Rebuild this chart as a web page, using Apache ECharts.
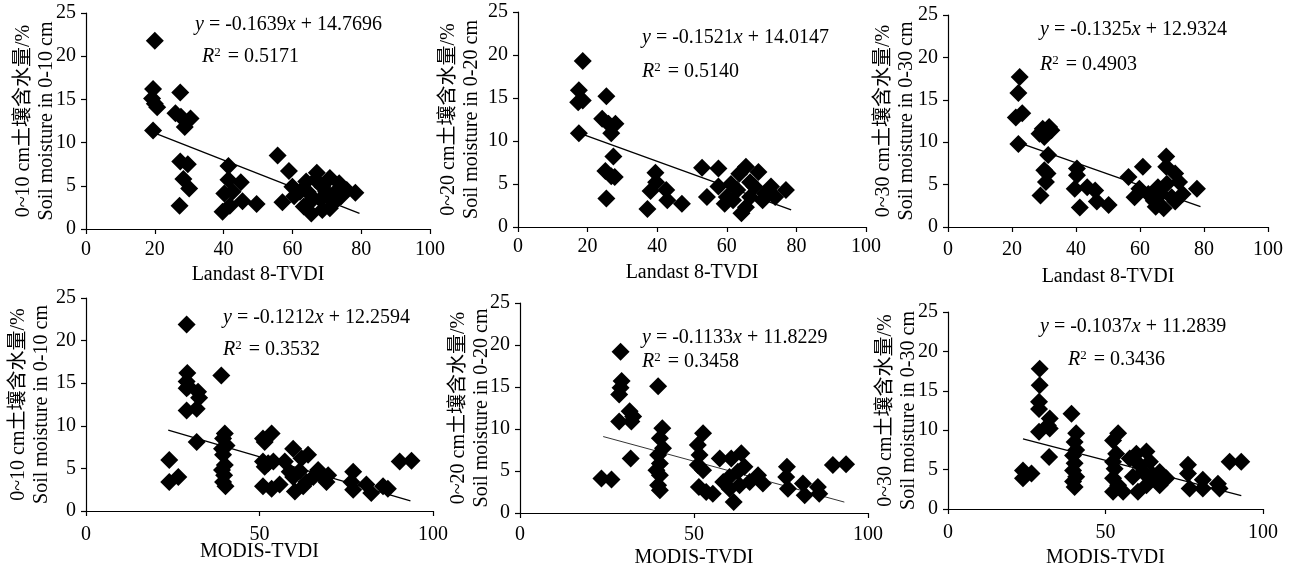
<!DOCTYPE html>
<html>
<head>
<meta charset="utf-8">
<script src="https://cdn.jsdelivr.net/npm/echarts@6/dist/echarts.min.js"></script>
<style>html,body{margin:0;padding:0;background:#fff}#c{width:1296px;height:570px}</style>
</head>
<body>
<div id="c"></div>
<script>
// ---- data ----
const landsat10 = [[20,21.8],[19.5,16.2],[19.2,15.1],[20,14.5],[20.7,14.1],[19.5,11.4],[27.4,15.8],[26,13.4],[27.6,13],[30.4,12.8],[28.7,11.8],[27.4,7.8],[29.6,7.5],[28.3,5.8],[30,4.7],[27.2,2.7],[41.4,7.3],[41.4,5.7],[45,5.4],[40.2,4.1],[42.6,4.3],[45.5,3.2],[39.7,2.0],[41.8,2.7],[49.6,2.9],[55.7,8.5],[59,6.7],[57.1,3.1],[60,4.9],[60.5,3.8],[63.3,2.6],[65.5,1.8],[67.1,6.5],[68.7,4.9],[70.9,5.9],[73.6,5.3],[75.8,4.5],[78.3,4.2],[64.4,4.3],[66,3.6],[68.2,3.4],[70.4,3.8],[72,3.0],[68.7,2.2],[70.9,2.4],[64,5.5],[66.7,5.7],[69.8,4.3],[74.2,3.8],[64.9,3.0],[62.2,4.3],[72.6,4.3]];
const landsat20 = [[18.6,19.3],[17.5,15.9],[17.3,14.5],[18.6,14.7],[17.5,10.9],[25.4,15.2],[24.2,12.6],[26,12],[28,12],[26.8,10.9],[27.4,8.2],[25.1,6.5],[26.8,5.9],[27.8,5.8],[25.4,3.3],[39.5,6.3],[39.7,5.2],[38.1,4.2],[42.6,4.3],[42.9,3.1],[37.2,2.1],[47.1,2.7],[52.9,6.9],[57.6,6.8],[54.3,3.5],[57.6,4.7],[60,3.5],[63.6,6.2],[65.5,7.0],[69.1,6.4],[72.7,4.7],[77,4.3],[64.2,1.6],[61.8,3.1],[66.7,3.5],[70.3,3.1],[63,4.3],[67.9,4.7],[65.5,2.3],[59.4,2.7],[70.9,3.9],[61.2,5.0],[66.7,5.2],[73.9,3.5]];
const landsat30 = [[22.4,17.7],[22,15.8],[21.2,12.9],[23.2,13.4],[22,9.8],[29.6,11.6],[28.6,11.0],[31.6,11.8],[32.3,11.4],[30.1,10.6],[31.3,8.5],[30.1,6.7],[31.1,6.3],[30.6,5.3],[28.9,3.7],[40.3,6.9],[40.3,6.1],[39.6,4.5],[43.5,4.7],[46,4.3],[46.5,3.0],[41.2,2.3],[50.2,2.6],[56.4,5.9],[60.9,7.1],[58.3,3.5],[59.8,4.5],[68.2,8.3],[68.2,7.1],[71,6.3],[72.2,5.3],[77.8,4.5],[67.4,2.2],[64.3,3.1],[66.5,3.9],[69.9,3.5],[73.3,3.9],[68.4,5.1],[65.6,4.7],[71,3.0],[62.6,3.9],[64.9,2.4]];
const modis10 = [[29,21.9],[29.2,16.2],[29,15.2],[29.5,14.6],[29,14.4],[32.3,14.0],[32.6,13.3],[31.9,12.0],[29,11.8],[39,15.9],[31.9,8.1],[24,6.0],[24,3.4],[26.6,4.0],[40,9.1],[39.5,8.5],[40.5,7.7],[39.2,7.3],[39.5,6.6],[40,5.4],[39.2,4.8],[39.8,4.2],[39.5,3.4],[40.2,2.9],[51,8.5],[53.5,9.1],[51.5,8.1],[51,5.8],[52.5,5.6],[51.5,5.2],[54,5.8],[51,2.9],[53.5,2.6],[55.8,3.1],[57.3,5.8],[58.7,4.6],[59.7,7.3],[62.1,6.2],[64,6.6],[59.7,4.0],[61.6,4.7],[63.5,3.4],[60.2,2.3],[62.6,2.9],[65.5,4.0],[66.9,4.8],[68.3,4.0],[69.3,3.4],[69.8,4.2],[77,4.6],[76.5,3.4],[77,2.5],[80.8,3.1],[82.2,2.1],[85.6,2.9],[87,2.6],[90.4,5.8],[93.8,5.9]];
const modis20 = [[28.9,19.2],[29.2,15.7],[28.9,14.9],[28.5,14.1],[31.5,12.1],[32.5,11.5],[32,10.9],[28.5,10.9],[39.7,15.1],[31.8,6.5],[23.4,4.1],[26.3,4.0],[40.9,10.1],[40.2,8.9],[41.1,7.7],[39.7,6.9],[40.2,5.9],[39.2,5.1],[40.2,4.5],[39.7,3.3],[40.2,2.7],[52.6,9.5],[51.1,8.1],[51.6,6.9],[51.1,5.7],[52.6,5.1],[51.4,3.1],[53.5,2.5],[55.4,2.3],[57.4,6.5],[60.7,6.5],[63.6,7.1],[58.4,3.7],[60.2,4.3],[62.6,4.9],[64.5,5.5],[61.4,1.3],[60.2,2.9],[63.1,3.3],[66,3.7],[68.4,4.5],[69.8,3.5],[76.7,5.5],[76.5,4.3],[77,2.9],[81.3,3.5],[81.8,2.1],[85.6,3.1],[86,2.3],[89.9,5.7],[93.7,5.8]];
const modis30 = [[29.1,17.8],[29.1,15.7],[28.9,13.6],[28.9,12.7],[32.3,11.5],[31.7,10.6],[32.3,10.2],[28.9,9.8],[39.2,12.1],[32.1,6.6],[23.8,4.9],[23.8,3.9],[26.5,4.5],[40.7,9.6],[40.2,8.5],[40.7,7.5],[39.7,6.8],[40.2,5.8],[39.7,4.9],[40.7,4.1],[39.7,3.5],[40.2,2.8],[54,9.6],[52.4,8.7],[53.4,7.0],[52.4,6.0],[52.9,5.1],[52.4,3.9],[54,3.0],[52.4,2.2],[55.6,2.2],[57.7,6.4],[59.8,7.0],[63,7.3],[60.8,5.6],[58.7,4.1],[61.9,4.7],[65.1,4.3],[60.3,2.2],[63,3.0],[67.2,4.7],[69.3,3.9],[67.2,3.0],[64.1,6.0],[76.2,5.6],[76.2,4.5],[76.7,2.6],[80.9,3.7],[80.9,2.6],[85.7,3.2],[86.2,2.6],[89.4,6.0],[93.1,6.0]];

// trend line end points
const trend1 = [[20,11.1],[79.5,1.8]];
const trend2 = [[19,10.7],[78.5,2.0]];
const trend3 = [[23.2,9.8],[78.9,2.4]];
const trend4 = [[23.7,9.5],[93.5,1.2]];
const trend5 = [[23.9,9.1],[93.2,1.3]];
const trend6 = [[23.8,8.9],[93.1,1.7]];

const equations = ['-0.1639', '14.7696', '-0.1521', '14.0147', '-0.1325', '12.9324', '-0.1212', '12.2594', '-0.1133', '11.8229', '-0.1037', '11.2839'];
const r2Values = ['0.5171', '0.5140', '0.4903', '0.3532', '0.3458', '0.3436'];
const depths = ['0-10', '0-20', '0-30', '0-10', '0-20', '0-30'];
const depthsCn = ['0~10', '0~20', '0~30', '0~10', '0~20', '0~30'];
const xNames = ['Landast 8-TVDI', 'Landast 8-TVDI', 'Landast 8-TVDI', 'MODIS-TVDI', 'MODIS-TVDI', 'MODIS-TVDI'];
const xIntervals = [20, 20, 20, 50, 50, 50];

// ---- layout ----
const FONT = '"Liberation Serif", "Times New Roman", "Noto Sans CJK SC", serif';
const grids = [
  {left: 86, top: 13, width: 344, height: 216},
  {left: 518, top: 12, width: 348, height: 215},
  {left: 948, top: 15, width: 320, height: 212},
  {left: 86, top: 298, width: 347, height: 213},
  {left: 520, top: 303, width: 348, height: 210},
  {left: 948, top: 312, width: 315, height: 197}
];
const xNameGap = [36, 36, 40, 31, 35, 39];
const xLabelMargin = [11, 10, 13, 14, 12, 14];
const yNameGap = [28, 35, 30, 33, 27, 28];
const eqPos = [[195, 25, 202, 57], [642, 38, 642, 72], [1040, 30, 1040, 65], [223, 318, 223, 350], [642, 338, 642, 362], [1040, 327, 1068, 360]];
const trendWidth = [1.3, 1.3, 1.3, 1.3, 0.8, 1.3];

const scatterData = [landsat10, landsat20, landsat30, modis10, modis20, modis30];
const trendData = [trend1, trend2, trend3, trend4, trend5, trend6];

const chart = echarts.init(document.getElementById('c'), null, {renderer: 'canvas'});
const axisCommon = {
  axisLine: {lineStyle: {color: '#000', width: 1.2}},
  axisTick: {inside: false, length: 5, lineStyle: {color: '#000', width: 1.2}},
  splitLine: {show: false},
  axisLabel: {color: '#000', fontFamily: FONT, fontSize: 20}
};
const option = {
  animation: false,
  backgroundColor: '#fff',
  grid: grids.map(g => Object.assign({containLabel: false}, g)),
  xAxis: grids.map((g, i) => Object.assign({}, axisCommon, {
    gridIndex: i, type: 'value', min: 0, max: 100, interval: xIntervals[i],
    name: xNames[i], nameLocation: 'middle', nameGap: xNameGap[i], nameMoveOverlap: false,
    nameTextStyle: {color: '#000', fontFamily: FONT, fontSize: 20},
    axisLabel: Object.assign({}, axisCommon.axisLabel, {margin: xLabelMargin[i]})
  })),
  yAxis: grids.map((g, i) => Object.assign({}, axisCommon, {
    gridIndex: i, type: 'value', min: 0, max: 25, interval: 5,
    name: depthsCn[i] + ' cm土壤含水量/%\nSoil moisture in ' + depths[i] + ' cm',
    nameLocation: 'middle', nameGap: yNameGap[i], nameMoveOverlap: false,
    nameTextStyle: {color: '#000', fontFamily: FONT, fontSize: 20, lineHeight: 23},
    axisLabel: Object.assign({}, axisCommon.axisLabel, {margin: 10})
  })),
  series: [],
  graphic: []
};
scatterData.forEach((d, i) => {
  option.series.push({
    type: 'scatter', xAxisIndex: i, yAxisIndex: i, data: d,
    symbol: 'diamond', symbolSize: 18, itemStyle: {color: '#000', opacity: 1}
  });
  option.series.push({
    type: 'line', xAxisIndex: i, yAxisIndex: i, data: trendData[i],
    symbol: 'none', lineStyle: {color: '#000', width: trendWidth[i]}, z: 3
  });
  const p = eqPos[i];
  option.graphic.push({
    type: 'text', x: p[0], y: p[1],
    style: {
      text: '{i|y} = ' + equations[2 * i] + '{i|x} + ' + equations[2 * i + 1],
      fill: '#000', font: '20px ' + FONT, verticalAlign: 'middle', align: 'left',
      rich: {i: {fontStyle: 'italic', fontFamily: FONT, fontSize: 20}}
    }
  });
  option.graphic.push({
    type: 'text', x: p[2], y: p[3],
    style: {
      text: '{i|R}{s|2} = ' + r2Values[i],
      fill: '#000', font: '20px ' + FONT, verticalAlign: 'middle', align: 'left',
      rich: {
        i: {fontStyle: 'italic', fontFamily: FONT, fontSize: 20, lineHeight: 22},
        s: {fontFamily: FONT, fontSize: 13, verticalAlign: 'top', lineHeight: 22, padding: [0, 2, 0, 0]}
      }
    }
  });
});
chart.setOption(option);
</script>
</body>
</html>
